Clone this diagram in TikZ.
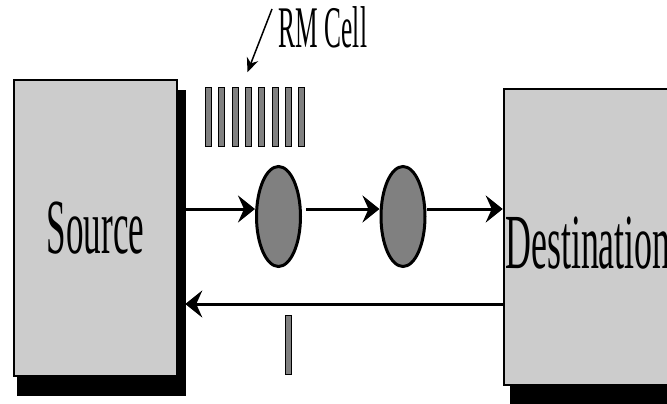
\documentclass[tikz,border=0pt]{standalone}
\usepackage{fontspec}
\setmainfont{Liberation Serif}
\usepackage{graphicx}
\usepackage{tikz}
\usetikzlibrary{arrows.meta, calc, shapes.geometric, backgrounds}
\definecolor{boxgray}{RGB}{204,204,204}
\definecolor{qgray}{RGB}{128,128,128}
\newcommand{\narrow}[2]{\scalebox{#1}[1]{#2}}

\begin{document}
\begin{tikzpicture}[x=1pt, y=-1pt,
    host/.style={draw, line width=2.5pt, fill=boxgray, rectangle, inner sep=0pt,
                 font=\fontsize{78}{80}\selectfont},
    queue/.style={draw, line width=3pt, fill=qgray, ellipse, inner sep=0pt,
                  minimum width=44pt, minimum height=100pt},
    cell/.style={draw, line width=0.8pt, fill=qgray, rectangle, inner sep=0pt,
                 minimum width=6pt, minimum height=59pt},
    flow/.style={line width=3pt, -{Stealth[length=17pt, width=27pt, inset=6pt]}},
    pointer/.style={line width=1.5pt, -{Stealth[length=14pt, width=12pt]}}]

    \useasboundingbox (0,0) rectangle (667,404);
    \clip (0,0) rectangle (667,404);

    %% Line levels
    \coordinate (fwd) at (0,209);
    \coordinate (bwd) at (0,304);

    %% --- End systems ---
    \node[host, minimum width=163pt, minimum height=296pt] (src) at (95.5,228) {\narrow{0.45}{Source}};
    \node[host, minimum width=168pt, minimum height=296pt, text height=62pt, text depth=0pt]
        (dst) at (588,237) {\narrow{0.46}{Destination}};

    %% Shadows
    \begin{scope}[on background layer]
        \fill[black] ($(src.north west)+(4,11)$) rectangle ($(src.south east)+(8,19)$);
        \fill[black] ($(dst.north west)+(7,11)$) rectangle ($(dst.south east)+(8,19)$);
    \end{scope}

    %% --- Switch queues ---
    \node[queue] (q1) at (278.5,216.5) {};
    \node[queue] (q2) at (403,216.5) {};

    %% Forward path
    \draw[flow] ($(src.east |- fwd)+(7,0)$) -- (q1.west |- fwd);
    \draw[flow, shorten <=4pt] (q1.east |- fwd) -- (q2.west |- fwd);
    \draw[flow] (q2.east |- fwd) -- (dst.west |- fwd);

    %% Backward path
    \draw[flow] (dst.west |- bwd) -- ($(src.east |- bwd)+(7,0)$);

    %% --- RM cells ---
    \foreach \i in {0,...,7}
        \node[cell] (rm\i) at ({208.5+13.33*\i},117) {};
    \node[cell] (ack) at (288,345) {};

    \node[font=\fontsize{59}{60}\selectfont] (rmlbl) at (323,27) {\narrow{0.43}{RM Cell}};
    \coordinate (rmtail) at (272,9);
    \draw[pointer] (rmtail) -- ($(rm3.north)+(-1,-15)$);

\end{tikzpicture}
\end{document}
